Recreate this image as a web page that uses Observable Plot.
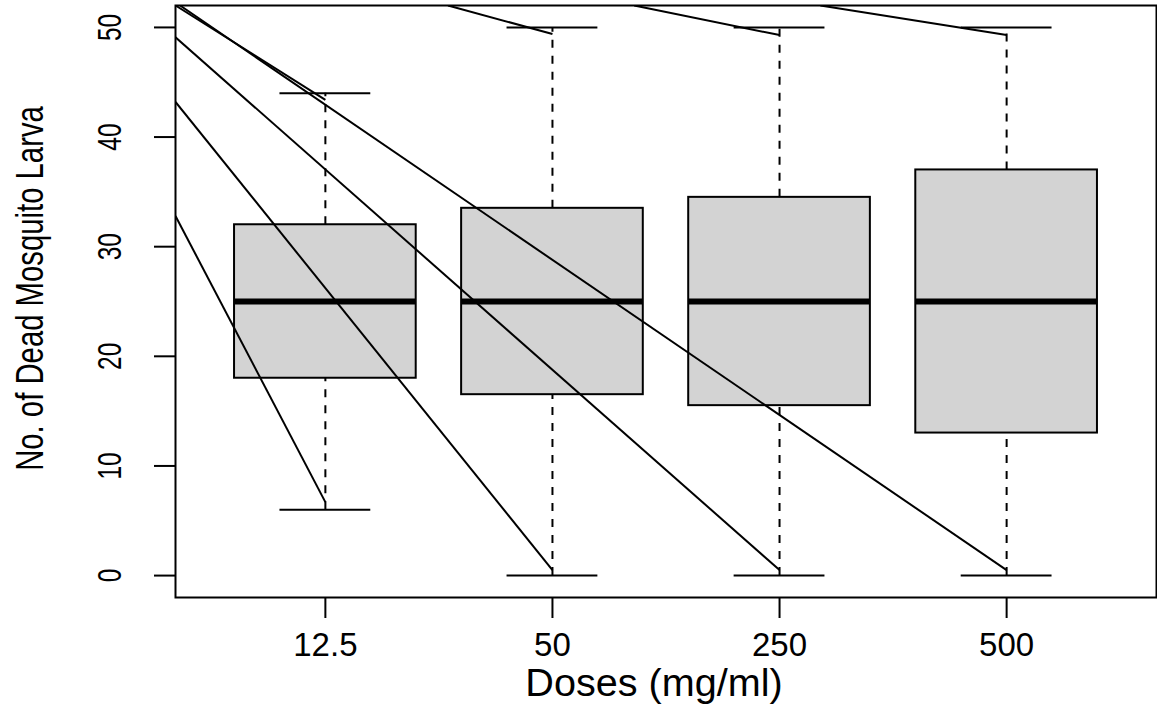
<!DOCTYPE html>
<html>
<head>
<meta charset="utf-8">
<script src="https://cdn.jsdelivr.net/npm/d3@7"></script>
<script src="https://cdn.jsdelivr.net/npm/@observablehq/plot@0.6"></script>
<style>
  html, body { margin: 0; padding: 0; background: #fff; }
  #chart svg { display: block; overflow: visible; }
</style>
</head>
<body>
<div id="chart"></div>
<script>
// Categories and box statistics
const doses = ["12.5", "50", "250", "500"];
const positions = [1, 2, 3, 4];
const whiskerLow = [6, 0, 0, 0];
const q1 = [18, 16.5, 15.5, 13];
const median = [25, 25, 25, 25];
const q3 = [32, 33.5, 34.5, 37];
const whiskerHigh = [44, 50, 50, 50];

// Extra straight lines drawn over the boxes (data units, start -> end)
const lineStartX = [0.34, 0.34, 0.34, 0.36, 0.34, 1.54, 2.36, 3.18];
const lineStartY = [32.8, 43.2, 49.1, 52, 52, 52, 52, 52];
const lineEndX   = [1, 2, 3, 4, 1, 2, 3, 4];
const lineEndY   = [6.7, 0.5, 0.5, 0.5, 43.4, 49.4, 49.3, 49.3];

const yTicks = [0, 10, 20, 30, 40, 50];
const xLabel = "Doses (mg/ml)";
const yLabel = "No. of Dead Mosquito Larva";

const boxes = positions.map((p, i) => ({
  pos: p, dose: doses[i], lo: whiskerLow[i], q1: q1[i], med: median[i], q3: q3[i], hi: whiskerHigh[i]
}));
const lines = lineStartX.map((_, i) => ({x1: lineStartX[i], y1: lineStartY[i], x2: lineEndX[i], y2: lineEndY[i]}));

const halfBox = 0.4, halfCap = 0.2;
const font = "'Liberation Sans', Arial, Helvetica, sans-serif";
const lw = 2;

const chart = Plot.plot({
  width: 1157,
  height: 723,
  marginLeft: 175,
  marginRight: 1,
  marginTop: 5,
  marginBottom: 126,
  style: {fontFamily: font, background: "#fff", overflow: "visible"},
  x: {domain: [0.34, 4.66], axis: null},
  y: {domain: [-2, 52], axis: null},
  marks: [
    // whiskers (dashed)
    Plot.ruleX(boxes, {x: "pos", y1: "q3", y2: "hi", stroke: "black", strokeWidth: lw, strokeDasharray: "8,8"}),
    Plot.ruleX(boxes, {x: "pos", y1: "lo", y2: "q1", stroke: "black", strokeWidth: lw, strokeDasharray: "8,8"}),
    // whisker caps
    Plot.ruleY(boxes, {y: "hi", x1: d => d.pos - halfCap, x2: d => d.pos + halfCap, stroke: "black", strokeWidth: lw}),
    Plot.ruleY(boxes, {y: "lo", x1: d => d.pos - halfCap, x2: d => d.pos + halfCap, stroke: "black", strokeWidth: lw}),
    // boxes
    Plot.rect(boxes, {x1: d => d.pos - halfBox, x2: d => d.pos + halfBox, y1: "q1", y2: "q3", fill: "#d3d3d3", stroke: "black", strokeWidth: lw}),
    // medians
    Plot.ruleY(boxes, {y: "med", x1: d => d.pos - halfBox, x2: d => d.pos + halfBox, stroke: "black", strokeWidth: 6}),
    // straight lines
    Plot.link(lines, {x1: "x1", y1: "y1", x2: "x2", y2: "y2", stroke: "black", strokeWidth: lw, clip: true}),
    // frame
    Plot.frame({stroke: "black", strokeWidth: lw}),
    // axes ticks
    Plot.axisX({ticks: positions, tickSize: 21, tickFormat: () => "", strokeWidth: lw, anchor: "bottom"}),
    Plot.axisY({ticks: yTicks, tickSize: 21, tickFormat: () => "", strokeWidth: lw, anchor: "left"}),
    // x tick labels
    Plot.text(boxes, {x: "pos", text: "dose", frameAnchor: "bottom", dy: 48, fontSize: 33, lineAnchor: "middle", textAnchor: "middle", fill: "black"}),
    // y tick labels (rotated, condensed afterwards)
    Plot.text(yTicks, {y: d => d, text: d => String(d), frameAnchor: "left", dx: -65, rotate: -90, fontSize: 33, lineAnchor: "middle", textAnchor: "middle", fill: "black"}),
    // axis titles
    Plot.text([xLabel], {frameAnchor: "bottom", dx: -12, dy: 86, fontSize: 39.6, lineAnchor: "middle", textAnchor: "middle", fill: "black", text: d => d}),
    Plot.text([yLabel], {frameAnchor: "left", dx: -145, dy: -13, rotate: -90, fontSize: 39.6, lineAnchor: "middle", textAnchor: "middle", fill: "black", text: d => d})
  ]
});
document.getElementById("chart").appendChild(chart);

// Rotated texts in the reference are drawn in a condensed face
chart.querySelectorAll("text").forEach(t => {
  const tf = (t.getAttribute("transform") || "") + " " + ((t.parentNode && t.parentNode.getAttribute && t.parentNode.getAttribute("transform")) || "");
  if (!tf.includes("rotate")) return;
  const len = t.getComputedTextLength();
  if (len > 0) {
    t.setAttribute("textLength", (len * 0.74).toFixed(1));
    t.setAttribute("lengthAdjust", "spacingAndGlyphs");
  }
});
</script>
</body>
</html>
